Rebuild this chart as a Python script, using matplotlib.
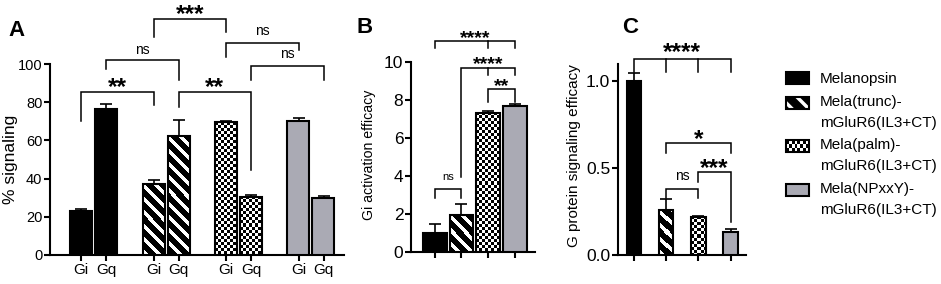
import numpy as np
import matplotlib
matplotlib.use("Agg")
import matplotlib.pyplot as plt
from matplotlib.patches import Rectangle, Patch
from matplotlib.legend_handler import HandlerBase

plt.rcParams['font.family'] = ['Liberation Sans', 'DejaVu Sans']
plt.rcParams['hatch.linewidth'] = 2.5


# ==========================================================
#                     DONNEES
# ==========================================================
constructs = ["Melanopsin", "Mela(trunc)-\nmGluR6(IL3+CT)",
              "Mela(palm)-\nmGluR6(IL3+CT)", "Mela(NPxxY)-\nmGluR6(IL3+CT)"]
fills = ["solid", "stripe", "checker", "gray"]

# A : % signaling, Gi / Gq par construction
a_ticklabels = ["Gi", "Gq"] * 4
a_gi = [23.1, 37.4, 69.4, 70.3]
a_gi_err = [0.9, 1.7, 0.7, 1.6]
a_gq = [76.7, 62.4, 30.4, 29.6]
a_gq_err = [2.2, 8.5, 1.2, 1.3]

# B : Gi activation efficacy
b_values = [1.0, 1.95, 7.33, 7.68]
b_err = [0.45, 0.6, 0.08, 0.12]

# C : G protein signaling efficacy
c_values = [1.0, 0.26, 0.22, 0.132]
c_err = [0.048, 0.06, 0.006, 0.015]

# crochets : (index des barres, hauteur, bas des pattes, texte, y du texte)
a_brackets = [
    ([0, 2], 85.5, [69.9, 78.3], "**", 91.6),
    ([1, 3], 102.0, [97.4, 91.7], "ns", 107.3),
    ([2, 4], 123.4, [114.3, 116.6], "***", 130.0),
    ([3, 5], 85.5, [77.7, 44.3], "**", 91.6),
    ([4, 6], 111.2, [103.8, 107.3], "ns", 116.9),
    ([5, 7], 98.8, [91.8, 91.8], "ns", 105.0),
]
b_brackets = [
    ([0, 1], 3.32, [2.85, 2.85], "ns", 3.96),
    ([0, 2, 3], 11.1, [10.72, 10.72, 10.72], "****", 11.6),
    ([1, 2, 3], 9.67, [3.96, 9.3, 9.3], "****", 10.2),
    ([2, 3], 8.56, [7.91, 7.91], "**", 9.05),
]
c_brackets = [
    ([0, 1, 2, 3], 1.13, [1.053, 1.053, 1.053, 1.053], "****", 1.207),
    ([1, 3], 0.644, [0.586, 0.586], "*", 0.707),
    ([2, 3], 0.477, [0.42, 0.19], "***", 0.54),
    ([1, 2], 0.379, [0.33, 0.33], "ns", 0.454),
]

GRAY = "#aaaab4"
LW = 1.5


# ==========================================================
#                     OUTILS
# ==========================================================
def pattern_fill(ax, bar, kind):
    # remplissage pixel par pixel (damier / rayures) coupe sur la barre
    x0, y0 = bar.get_x(), bar.get_y()
    x1, y1 = x0 + bar.get_width(), y0 + bar.get_height()
    (px0, py0), (px1, py1) = ax.transData.transform([(x0, y0), (x1, y1)])
    nx = max(int(round(px1 - px0)), 1)
    ny = max(int(round(py1 - py0)), 1)
    r, c = np.mgrid[0:ny, 0:nx]
    if kind == "checker":
        img = ((r // 3 + c // 3) % 2).astype(float)
    else:
        img = (((r - c) % 13) < 5).astype(float)
    xl, yl = ax.get_xlim(), ax.get_ylim()
    ax.imshow(img, extent=(x0, x1, y0, y1), origin="upper", cmap="gray",
              vmin=0, vmax=1, interpolation="nearest", aspect="auto",
              zorder=3, clip_path=bar)
    ax.set_xlim(xl)
    ax.set_ylim(yl)


def draw_bars(ax, xs, values, errs, kinds, width):
    ax.errorbar(xs, values, yerr=[np.zeros(len(values)), errs], fmt="none",
                ecolor="black", elinewidth=1.2, capsize=4, capthick=1.2, zorder=2)
    for x, v, k in zip(xs, values, kinds):
        if k == "gray":
            ax.bar(x, v, width, color=GRAY, edgecolor="black", linewidth=LW, zorder=4)
        elif k == "solid":
            ax.bar(x, v, width, color="black", edgecolor="black", linewidth=LW, zorder=4)
        else:
            bar = ax.bar(x, v, width, fill=False, edgecolor="black", linewidth=LW, zorder=4)[0]
            pattern_fill(ax, bar, k)


def draw_bracket(ax, xs, top, bottoms, text, text_y, star_fs, ns_fs):
    ax.plot([xs[0], xs[0], xs[-1], xs[-1]], [bottoms[0], top, top, bottoms[-1]],
            color="black", lw=1.1, clip_on=False, solid_joinstyle="miter")
    for x, b in zip(xs[1:-1], bottoms[1:-1]):
        ax.plot([x, x], [top, b], color="black", lw=1.1, clip_on=False)
    xm = (xs[0] + xs[-1]) / 2
    if text == "ns":
        ax.annotate(text, (xm, text_y), xytext=(0, -0.26 * ns_fs), textcoords="offset points",
                    ha="center", va="baseline", fontsize=ns_fs, annotation_clip=False)
    else:
        ax.annotate(text, (xm, text_y), xytext=(0, -0.57 * star_fs), textcoords="offset points",
                    ha="center", va="baseline", fontsize=star_fs, fontweight="bold",
                    annotation_clip=False)


def style_axes(ax, labelsize):
    for s in ["top", "right"]:
        ax.spines[s].set_visible(False)
    for s in ["left", "bottom"]:
        ax.spines[s].set_linewidth(1.5)
    ax.tick_params(width=1.5, length=4, labelsize=labelsize, pad=1.5)


class PatternHandler(HandlerBase):
    def __init__(self, kind, shift):
        super().__init__()
        self.kind = kind
        self.shift = shift

    def create_artists(self, legend, orig_handle, xdescent, ydescent,
                       width, height, fontsize, trans):
        x0, y0 = -xdescent, -ydescent + self.shift
        arts = []
        if self.kind == "checker":
            arts.append(Rectangle((x0, y0), width, height, facecolor="white",
                                  edgecolor="none", transform=trans))
            nxc, nyc = 8, 3
            for i in range(nxc):
                for j in range(nyc):
                    if (i + j) % 2 == 0:
                        arts.append(Rectangle((x0 + i * width / nxc, y0 + j * height / nyc),
                                              width / nxc, height / nyc, facecolor="black",
                                              edgecolor="none", transform=trans))
            face = "none"
        elif self.kind == "stripe":
            arts.append(Rectangle((x0, y0), width, height, facecolor="black", edgecolor="white",
                                  hatch="\\\\", linewidth=0, transform=trans))
            face = "none"
        elif self.kind == "gray":
            face = GRAY
        else:
            face = "black"
        arts.append(Rectangle((x0, y0), width, height, facecolor=face, edgecolor="black",
                              linewidth=1.5, transform=trans))
        return arts


# ==========================================================
#                     FIGURE
# ==========================================================
fig = plt.figure(figsize=(9.41, 2.84), dpi=100)

# ----------------- A --------------------
ax_a = fig.add_axes([50 / 941, 1 - 255 / 284, 294 / 941, 191 / 284])
style_axes(ax_a, 10.5)
ax_a.set_xlim(-1.24, 10.52)
ax_a.set_ylim(0, 100)
a_pos = (np.arange(4)[:, None] * 2.9 + np.array([0, 1])[None, :]).ravel()
a_vals = np.column_stack([a_gi, a_gq]).ravel()
a_errs = np.column_stack([a_gi_err, a_gq_err]).ravel()
a_kinds = [k for k in fills for _ in range(2)]
draw_bars(ax_a, a_pos, a_vals, a_errs, a_kinds, 0.88)
ax_a.set_xticks(a_pos)
ax_a.set_xticklabels(a_ticklabels, fontsize=11)
ax_a.set_yticks(np.arange(0, 101, 20))
ax_a.set_ylabel("% signaling", fontsize=12.5)
ax_a.yaxis.set_label_coords(-0.108, 0.5)
for legs, top, bots, txt, ty in a_brackets:
    draw_bracket(ax_a, [a_pos[i] for i in legs], top, bots, txt, ty, 17.5, 10)

# ----------------- B --------------------
ax_b = fig.add_axes([411 / 941, 1 - 252 / 284, 124 / 941, 190 / 284])
style_axes(ax_b, 12.5)
ax_b.set_xlim(-0.9, 3.77)
ax_b.set_ylim(0, 10)
b_pos = np.arange(4)
draw_bars(ax_b, b_pos, b_values, b_err, fills, 0.9)
ax_b.set_xticks(b_pos)
ax_b.set_xticklabels([])
ax_b.set_yticks(np.arange(0, 11, 2))
ax_b.set_ylabel("Gi activation efficacy", fontsize=10.2)
ax_b.yaxis.set_label_coords(-0.28, 0.51)
for legs, top, bots, txt, ty in b_brackets:
    draw_bracket(ax_b, [b_pos[i] for i in legs], top, bots, txt, ty, 14, 8)

# ----------------- C --------------------
ax_c = fig.add_axes([618 / 941, 1 - 255 / 284, 128 / 941, 191 / 284])
style_axes(ax_c, 12.5)
ax_c.set_xlim(-0.5, 3.48)
ax_c.set_ylim(0, 1.1)
c_pos = np.arange(4)
draw_bars(ax_c, c_pos, c_values, c_err, fills, 0.45)
ax_c.set_xticks(c_pos)
ax_c.set_xticklabels([])
ax_c.set_yticks([0, 0.5, 1.0])
ax_c.set_yticklabels(["0.0", "0.5", "1.0"])
ax_c.set_ylabel("G protein signaling efficacy", fontsize=11)
ax_c.yaxis.set_label_coords(-0.29, 0.52)
for legs, top, bots, txt, ty in c_brackets:
    draw_bracket(ax_c, [c_pos[i] for i in legs], top, bots, txt, ty, 17.5, 10)

# ----------------- lettres --------------------
fig.text(8 / 941, 1 - 36 / 284, "A", fontsize=16, fontweight="bold")
fig.text(357 / 941, 1 - 33 / 284, "B", fontsize=16, fontweight="bold")
fig.text(622 / 941, 1 - 33 / 284, "C", fontsize=16, fontweight="bold")

# ----------------- legende --------------------
handles = [Patch(label=l) for l in constructs]
shifts = [0, 7, 7, 7]
leg = fig.legend(handles, constructs, loc="upper left", bbox_to_anchor=(786 / 941, 1 - 72 / 284),
                 frameon=False, fontsize=11, handlelength=1.5, handleheight=0.8,
                 handletextpad=0.7, labelspacing=0.58, borderpad=0, borderaxespad=0,
                 handler_map={h: PatternHandler(k, s) for h, k, s in zip(handles, fills, shifts)})
for t in leg.get_texts():
    t.set_linespacing(1.6)

fig.savefig("out.png", dpi=100)
